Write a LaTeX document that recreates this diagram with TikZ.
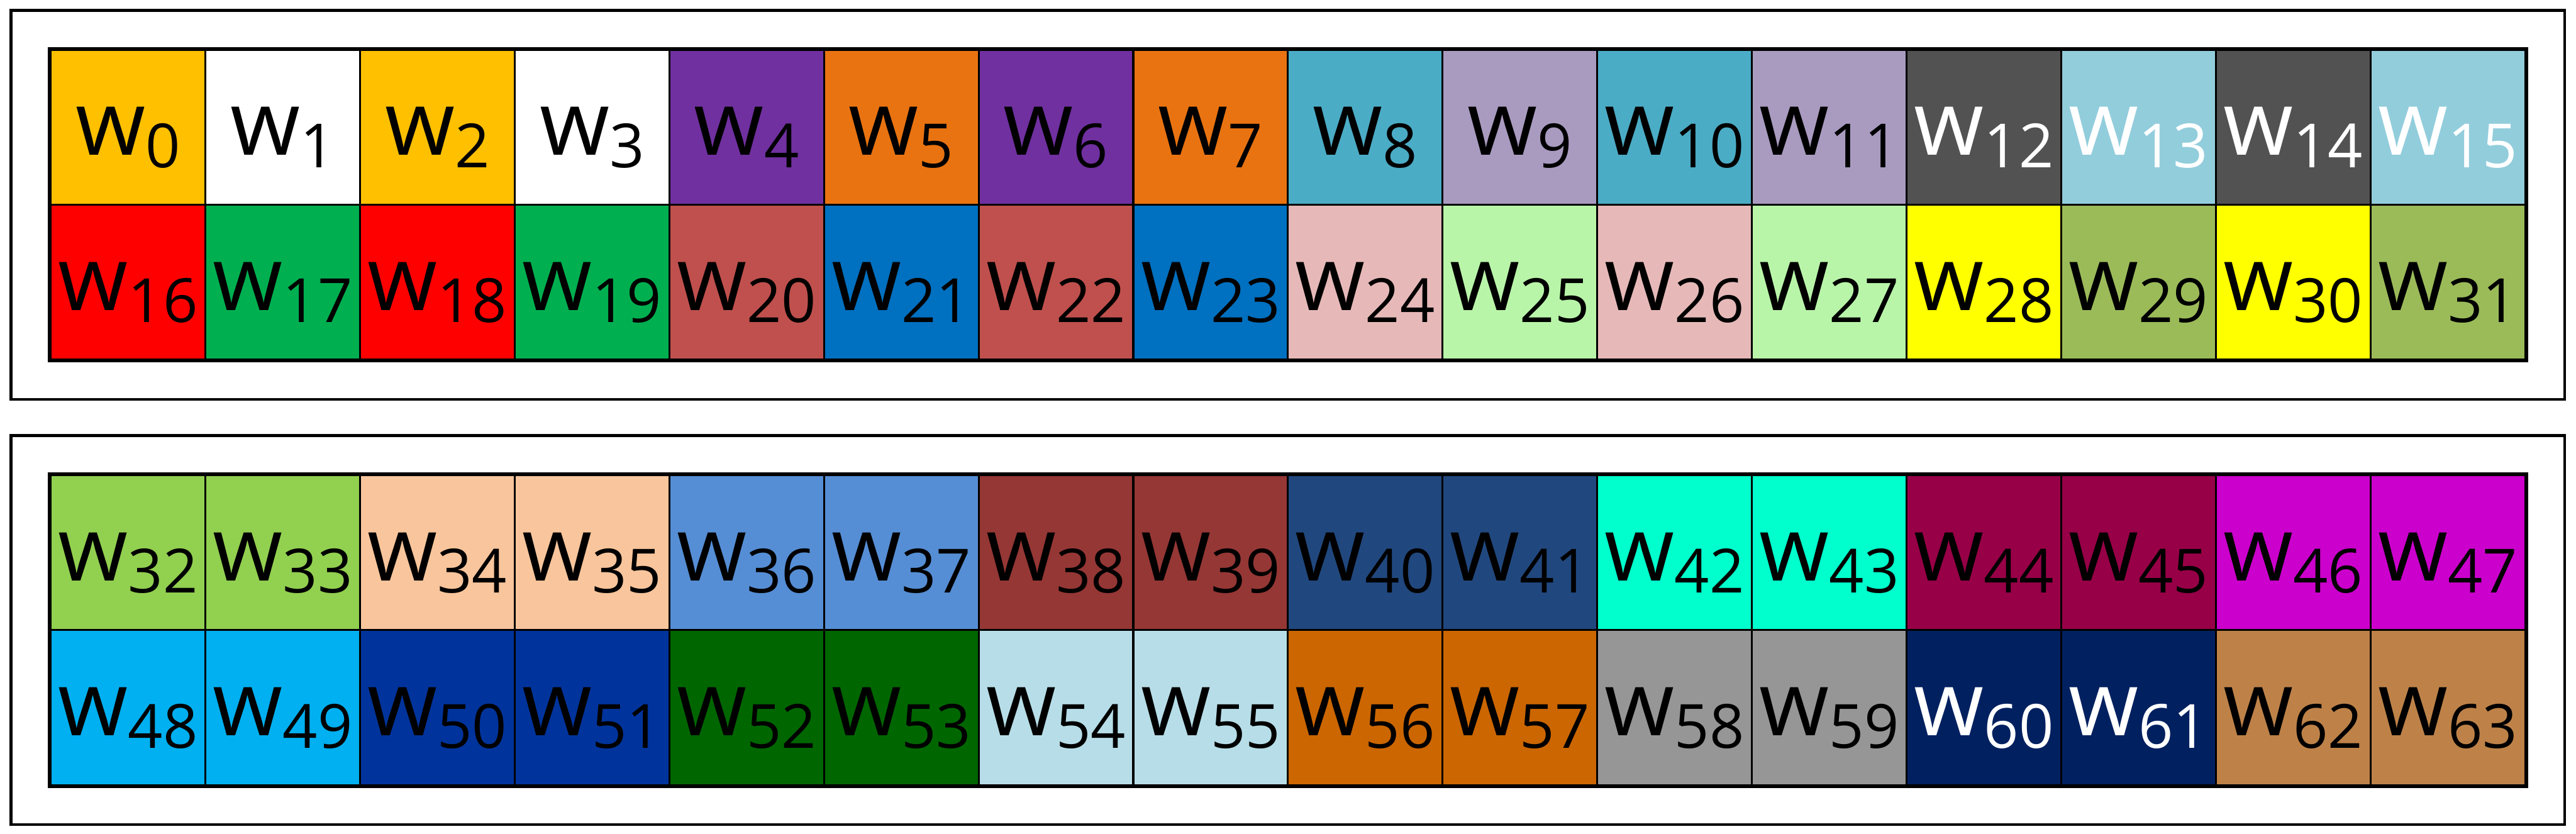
\documentclass[tikz,border=0pt]{standalone}
\usepackage{fontspec}
\setmainfont{Open Sans}
\usetikzlibrary{positioning,fit}
\definecolor{gold}{HTML}{FFC000}
\definecolor{plum}{HTML}{7030A0}
\definecolor{tang}{HTML}{E97311}
\definecolor{aqua}{HTML}{4BACC6}
\definecolor{lilac}{HTML}{A99BC0}
\definecolor{slate}{HTML}{525252}
\definecolor{sky}{HTML}{92CDDC}
\definecolor{scarlet}{HTML}{FF0000}
\definecolor{jade}{HTML}{00B050}
\definecolor{brick}{HTML}{C0504D}
\definecolor{ocean}{HTML}{0070C0}
\definecolor{blush}{HTML}{E6B9B8}
\definecolor{mint}{HTML}{B9F5A9}
\definecolor{lemon}{HTML}{FFFF00}
\definecolor{moss}{HTML}{9BBB59}
\definecolor{leaf}{HTML}{92D050}
\definecolor{peach}{HTML}{F8C59C}
\definecolor{cornflower}{HTML}{558ED5}
\definecolor{rust}{HTML}{953735}
\definecolor{denim}{HTML}{21487E}
\definecolor{aquam}{HTML}{00FFCC}
\definecolor{wine}{HTML}{970047}
\definecolor{fuchsia}{HTML}{CC00CC}
\definecolor{azure}{HTML}{00B0F0}
\definecolor{royal}{HTML}{00349C}
\definecolor{forest}{HTML}{006600}
\definecolor{frost}{HTML}{B7DEE8}
\definecolor{amber}{HTML}{CC6600}
\definecolor{ash}{HTML}{969696}
\definecolor{navyw}{HTML}{002060}
\definecolor{tanw}{HTML}{BE8248}
\newcommand{\wsub}[1]{w\raisebox{-2.3pt}{\fontsize{11.2}{12}\selectfont #1}}
\tikzset{
  cell/.style={rectangle, draw=black, line width=0.35pt, minimum width=0.999cm, minimum height=1cm,
    inner sep=0pt, text height=0.36cm, text depth=0pt, font=\fontsize{16.5}{18}\selectfont},
  blockedge/.style={draw=black, line width=0.7pt},
  frame/.style={rectangle, draw=black, line width=0.5pt, inner sep=0.25cm},
}
\begin{document}
\begin{tikzpicture}
  \useasboundingbox (0,0) rectangle (16.64,-5.383);
  % weight cells, 16 per row
  \foreach \i/\col/\tc in {0/gold/black, 1/white/black, 2/gold/black, 3/white/black, 4/plum/black,
    5/tang/black, 6/plum/black, 7/tang/black, 8/aqua/black, 9/lilac/black, 10/aqua/black,
    11/lilac/black, 12/slate/white, 13/sky/white, 14/slate/white, 15/sky/white,
    16/scarlet/black, 17/jade/black, 18/scarlet/black, 19/jade/black, 20/brick/black,
    21/ocean/black, 22/brick/black, 23/ocean/black, 24/blush/black, 25/mint/black,
    26/blush/black, 27/mint/black, 28/lemon/black, 29/moss/black, 30/lemon/black, 31/moss/black,
    32/leaf/black, 33/leaf/black, 34/peach/black, 35/peach/black, 36/cornflower/black,
    37/cornflower/black, 38/rust/black, 39/rust/black, 40/denim/black, 41/denim/black,
    42/aquam/black, 43/aquam/black, 44/wine/black, 45/wine/black, 46/fuchsia/black,
    47/fuchsia/black, 48/azure/black, 49/azure/black, 50/royal/black, 51/royal/black,
    52/forest/black, 53/forest/black, 54/frost/black, 55/frost/black, 56/amber/black,
    57/amber/black, 58/ash/black, 59/ash/black, 60/navyw/white, 61/navyw/white,
    62/tanw/black, 63/tanw/black} {
    \pgfmathtruncatemacro\cx{mod(\i,16)}
    \pgfmathtruncatemacro\ry{\i/16}
    \pgfmathsetmacro\yy{-0.823-\ry-0.747*int(\ry/2)}
    \node[cell, fill=\col, text=\tc] (w\i) at ({0.827+0.999*\cx},\yy) {\wsub{\i}};
  }
  % block borders
  \draw[blockedge] (w0.north west) rectangle (w31.south east);
  \draw[blockedge] (w32.north west) rectangle (w63.south east);
  % outer frames
  \node[frame, fit=(w0)(w31)] (upper) {};
  \node[frame, fit=(w32)(w63)] (lower) {};
\end{tikzpicture}
\end{document}
